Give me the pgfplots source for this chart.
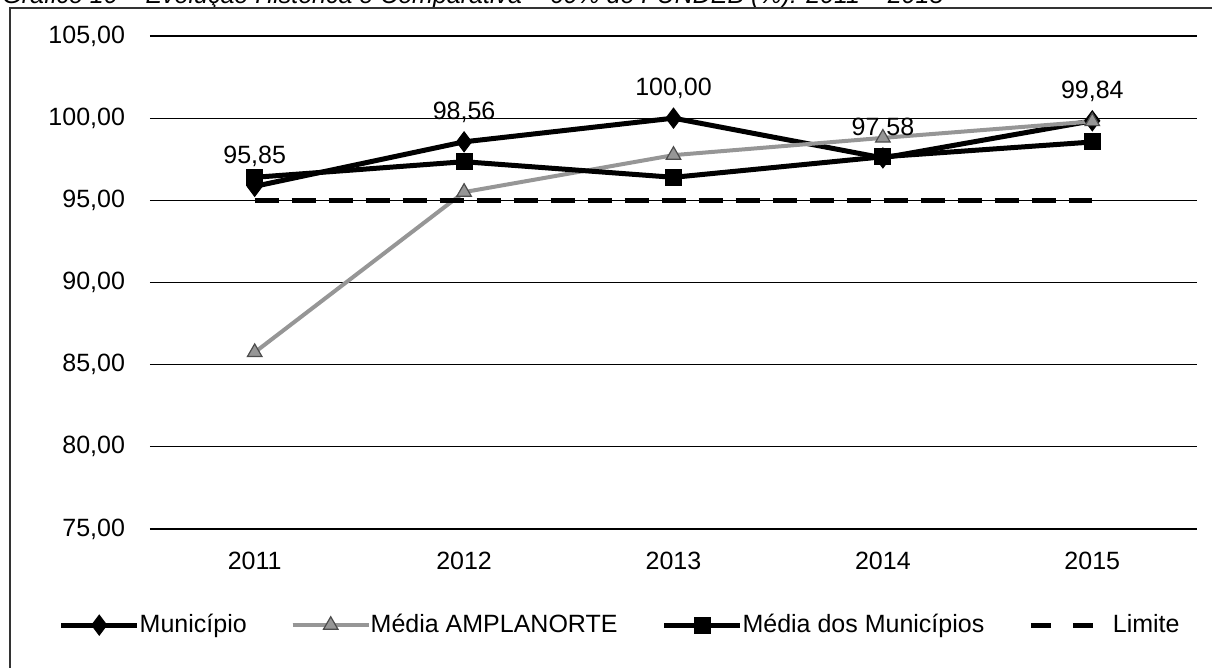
\documentclass[border=0pt]{standalone}
\usepackage{pgfplots}
\pgfplotsset{compat=1.18}
\usepackage{fontspec}
\setmainfont{Liberation Sans}
\definecolor{amp}{RGB}{150,150,150}
\pgfplotsset{limitlegend/.style={legend image code/.code={\draw[##1,dash pattern=on 10pt off 11pt] (0pt,0pt) -- (31pt,0pt); \path[draw=none,fill=none] (0pt,0pt) rectangle (41pt,0.1pt);}}}
\begin{document}
\begin{tikzpicture}
\useasboundingbox (0,0) rectangle (606pt,334pt);
\node[anchor=base west,inner sep=0pt,font=\fontsize{12.5}{14}\selectfont\itshape] at (1pt,332pt) {Gráfico 10 -- Evolução Histórica e Comparativa -- 60\% do FUNDEB (\%): 2011 -- 2015};
\draw[line width=0.6pt,black!80] (5pt,-5pt) -- (5pt,330pt) -- (620pt,330pt);
\begin{axis}[
  at={(75pt,69.5pt)}, anchor=south west,
  scale only axis, width=523.5pt, height=246.5pt,
  xmin=-0.5, xmax=4.5, ymin=75, ymax=105,
  xtick={0,1,2,3,4}, xticklabels={2011,2012,2013,2014,2015},
  ytick={75,80,85,90,95,100,105},
  ymajorgrids, grid style={line width=0.6pt,black},
  axis line style={draw=none},
  major tick length=0pt,
  tick label style={font=\fontsize{12.5}{14}\selectfont},
  yticklabel style={/pgf/number format/fixed,/pgf/number format/fixed zerofill,/pgf/number format/precision=2,/pgf/number format/use comma,/pgf/number format/1000 sep={}, xshift=-9pt},
  /pgf/number format/assume math mode=true,
  xticklabel style={yshift=-8pt},
  legend columns=4,
  legend style={at={(0.45,-0.195)}, anchor=center, draw=none, fill=none,
    font=\fontsize{12.5}{14}\selectfont,
    /tikz/every even column/.append style={column sep=20pt},
    /tikz/every odd column/.append style={column sep=-2pt}},
  legend image code/.code={\draw[#1] (0pt,0pt) -- (38pt,0pt); \draw[#1,mark repeat=2,mark phase=2] plot coordinates {(0pt,0pt) (19pt,0pt) (38pt,0pt)};},
  legend cell align=left,
  clip=false,
]
\addplot[black, line width=2.5pt, mark=diamond*, mark size=5pt, mark options={solid,line width=0.5pt},
  nodes near coords={\pgfmathprintnumber[fixed,fixed zerofill,precision=2,use comma]{\pgfplotspointmeta}},
  every node near coord/.append style={font=\fontsize{12.5}{14}\selectfont, anchor=south, yshift=6pt}]
  coordinates {(0,95.85) (1,98.56) (2,100.00) (3,97.58) (4,99.84)};
\addlegendentry{Município}
\addplot[amp, line width=2pt, mark=triangle*, mark size=4.2pt, mark options={solid,fill=amp,draw=black!70,line width=0.6pt}]
  coordinates {(0,85.75) (1,95.5) (2,97.75) (3,98.8) (4,99.8)};
\addlegendentry{Média AMPLANORTE}
\addplot[black, line width=2.5pt, mark=square*, mark size=4pt, mark options={solid,line width=0.5pt}]
  coordinates {(0,96.4) (1,97.35) (2,96.4) (3,97.65) (4,98.55)};
\addlegendentry{Média dos Municípios}
\addplot[black, line width=2.5pt, dash pattern=on 12pt off 6.5pt, mark=none, limitlegend]
  coordinates {(0,95) (1,95) (2,95) (3,95) (4,95)};
\addlegendentry{Limite}
\end{axis}
\end{tikzpicture}
\end{document}
